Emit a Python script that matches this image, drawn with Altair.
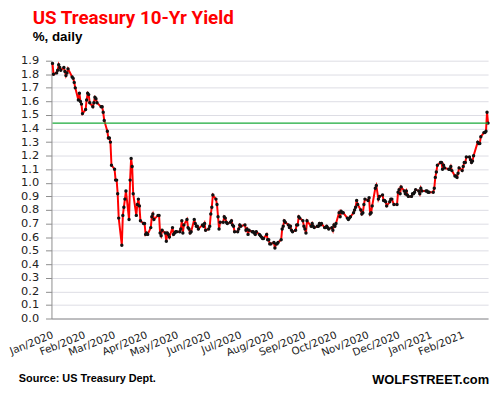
import altair as alt
import pandas as pd

# Daily 10-yr yields (%), month by month
jan20 = [1.88, 1.80, 1.81, 1.83, 1.87, 1.85, 1.83, 1.85, 1.82, 1.79, 1.81, 1.84, 1.78, 1.77, 1.74, 1.70, 1.61, 1.66, 1.60, 1.58, 1.51]
feb20 = [1.54, 1.61, 1.66, 1.65, 1.59, 1.56, 1.59, 1.63, 1.62, 1.59, 1.56, 1.56, 1.52, 1.46, 1.38, 1.33, 1.33, 1.30, 1.13]
mar20 = [1.10, 1.02, 1.02, 0.92, 0.74, 0.54, 0.76, 0.82, 0.88, 0.94, 0.73, 1.02, 1.18, 1.12, 0.92, 0.76, 0.84, 0.88, 0.83, 0.72, 0.70, 0.70]
apr20 = [0.62, 0.63, 0.62, 0.67, 0.75, 0.77, 0.73, 0.76, 0.76, 0.63, 0.61, 0.65, 0.63, 0.57, 0.63, 0.62, 0.60, 0.67, 0.62, 0.63, 0.64]
may20 = [0.64, 0.64, 0.66, 0.72, 0.63, 0.69, 0.73, 0.67, 0.66, 0.63, 0.64, 0.73, 0.70, 0.68, 0.68, 0.66, 0.69, 0.68, 0.70, 0.65]
jun20 = [0.66, 0.68, 0.77, 0.82, 0.91, 0.88, 0.84, 0.75, 0.66, 0.71, 0.71, 0.75, 0.74, 0.71, 0.70, 0.71, 0.72, 0.69, 0.68, 0.64, 0.64, 0.66]
jul20 = [0.69, 0.68, 0.69, 0.65, 0.66, 0.62, 0.65, 0.64, 0.64, 0.63, 0.62, 0.64, 0.62, 0.61, 0.60, 0.59, 0.59, 0.62, 0.58, 0.58, 0.55, 0.55]
aug20 = [0.56, 0.52, 0.55, 0.55, 0.56, 0.58, 0.66, 0.68, 0.72, 0.71, 0.69, 0.67, 0.68, 0.65, 0.64, 0.65, 0.69, 0.69, 0.75, 0.74, 0.72]
sep20 = [0.68, 0.66, 0.63, 0.72, 0.68, 0.70, 0.68, 0.67, 0.68, 0.68, 0.70, 0.69, 0.70, 0.67, 0.67, 0.68, 0.67, 0.66, 0.67, 0.65, 0.69]
oct20 = [0.68, 0.70, 0.78, 0.75, 0.79, 0.78, 0.78, 0.74, 0.73, 0.74, 0.75, 0.78, 0.80, 0.82, 0.87, 0.84, 0.80, 0.77, 0.78, 0.84, 0.88]
nov20 = [0.87, 0.89, 0.77, 0.78, 0.83, 0.96, 0.98, 0.88, 0.90, 0.91, 0.87, 0.87, 0.86, 0.83, 0.86, 0.88, 0.88, 0.84, 0.84]
dec20 = [0.93, 0.95, 0.92, 0.97, 0.94, 0.92, 0.94, 0.91, 0.90, 0.90, 0.92, 0.92, 0.93, 0.95, 0.94, 0.92, 0.96, 0.94, 0.94, 0.94, 0.93, 0.93]
jan21 = [0.93, 0.96, 1.04, 1.08, 1.13, 1.15, 1.15, 1.10, 1.13, 1.11, 1.10, 1.10, 1.12, 1.09, 1.05, 1.05, 1.04, 1.07, 1.11]
feb21 = [1.09, 1.12, 1.15, 1.15, 1.19, 1.19, 1.17, 1.15, 1.16, 1.20, 1.30, 1.29, 1.29, 1.34, 1.37, 1.37, 1.38, 1.52, 1.44]

market_holidays = ["2020-01-01", "2020-01-20", "2020-02-17", "2020-04-10", "2020-05-25",
                   "2020-07-03", "2020-09-07", "2020-10-12", "2020-11-11", "2020-11-26",
                   "2020-12-25", "2021-01-01", "2021-01-18", "2021-02-15"]

y_ticks = [0.0, 0.1, 0.2, 0.3, 0.4, 0.5, 0.6, 0.7, 0.8, 0.9,
           1.0, 1.1, 1.2, 1.3, 1.4, 1.5, 1.6, 1.7, 1.8, 1.9]
tick_months = [(2020, m) for m in range(1, 13)] + [(2021, 1), (2021, 2)]

title_text = "US Treasury  10-Yr Yield"
subtitle_text = "%, daily"
source_text = "Source: US Treasury Dept."
brand_text = "WOLFSTREET.com"

yields = jan20 + feb20 + mar20 + apr20 + may20 + jun20 + jul20 + aug20 + sep20 + oct20 + nov20 + dec20 + jan21 + feb21
dates = pd.bdate_range("2020-01-01", "2021-02-26", freq="C", holidays=market_holidays)
assert len(dates) == len(yields), (len(dates), len(yields))
df = pd.DataFrame({"date": dates.strftime("%Y-%m-%d"), "yield": yields,
                   "ref": [yields[-1]] * len(yields)})

month_vals = [alt.DateTime(year=y, month=m, date=1, utc=True) for y, m in tick_months]
x_domain = [alt.DateTime(year=2020, month=1, date=1, utc=True),
            alt.DateTime(year=2021, month=2, date=26, utc=True)]

LABEL_FONT = "DejaVu Sans"
LABEL_COLOR = "#222222"

x_scale = alt.Scale(type="utc", domain=x_domain)
x_axis = alt.Axis(values=month_vals, labelExpr="utcFormat(datum.value, '%b/%Y')",
                  labelAngle=338, labelAlign="right", labelBaseline="middle",
                  labelPadding=16, labelOffset=1, ticks=False, grid=False, labelOverlap=False,
                  labelFlush=False, labelBound=False,
                  domainColor="#8c8c8c", domainWidth=1,
                  labelFont=LABEL_FONT, labelFontSize=10.5, labelColor=LABEL_COLOR,
                  title=None)
y_scale = alt.Scale(domain=[0, 1.9], nice=False, zero=True)
y_axis = alt.Axis(values=y_ticks, format=".1f", tickSize=6, tickColor="#8c8c8c",
                  labelPadding=7, grid=True, gridColor="#dcdce4", gridWidth=1,
                  domainColor="#8c8c8c", labelFont=LABEL_FONT, labelFontSize=11.5,
                  labelColor=LABEL_COLOR, labelOverlap=False, title=None)

x_enc = alt.X("date:T", scale=x_scale, axis=x_axis)
base = alt.Chart(df).encode(x=x_enc)
line = base.mark_line(color="#ff0000", strokeWidth=2).encode(
    y=alt.Y("yield:Q", scale=y_scale, axis=y_axis))
points = base.mark_point(filled=True, color="#111111", size=12, opacity=1).encode(
    y=alt.Y("yield:Q", scale=y_scale, axis=y_axis))
rule = base.mark_line(color="#1aaa3a", strokeWidth=1.3).encode(
    y=alt.Y("ref:Q", scale=y_scale, axis=y_axis))

def text_layer(txt, x, y, size, color, font, weight="bold", align="left"):
    return alt.Chart(pd.DataFrame({"t": [txt]})).mark_text(
        align=align, baseline="alphabetic", fontSize=size, fontWeight=weight,
        font=font, color=color
    ).encode(text="t:N", x=alt.value(x), y=alt.value(y))

title = text_layer(title_text, -19, -37, 19, "#ff0000", "Roboto")
subtitle = text_layer(subtitle_text, -19, -20, 13.5, "#000000", "Liberation Sans")
source = text_layer(source_text, -33, 325, 11, "#000000", "Liberation Sans")
brand = text_layer(brand_text, 443, 327, 13, "#000000", "Liberation Sans", weight=900, align="right")

chart = alt.layer(line, points, rule, title, subtitle, source, brand).properties(
    width=442, height=261,
    autosize=alt.AutoSizeParams(type="none"),
    padding={"left": 44, "top": 51, "right": 5, "bottom": 68},
    background="white",
).configure_view(stroke=None)

chart.save("out.html", embed_options={"renderer": "svg", "actions": False})
